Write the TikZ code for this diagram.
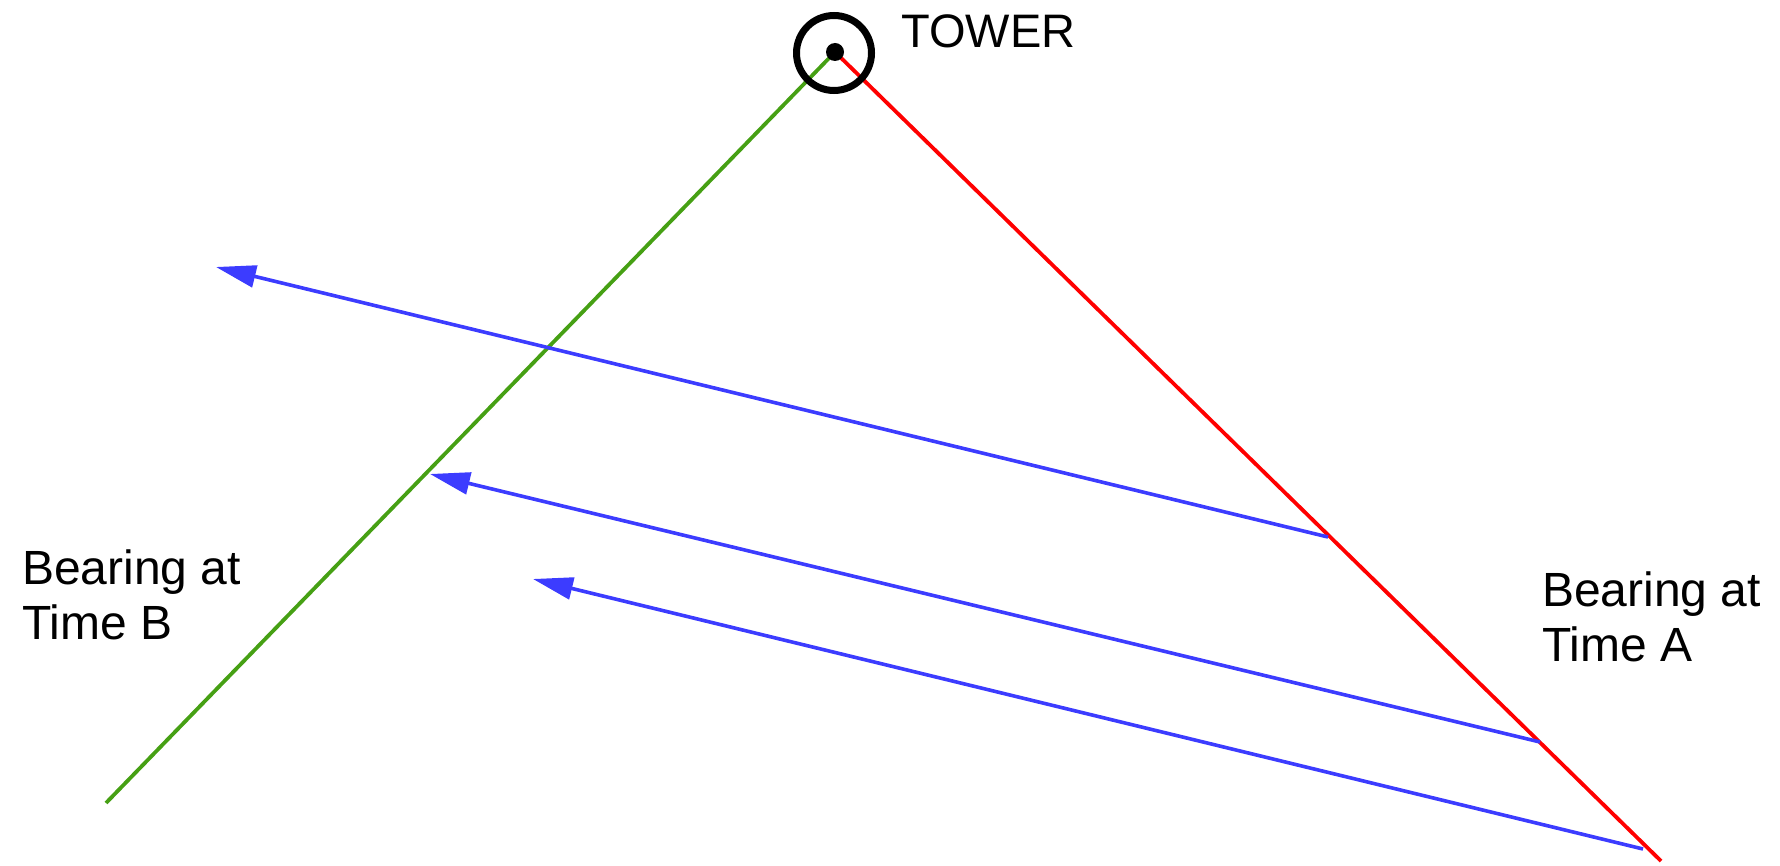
\documentclass[tikz,border=0pt]{standalone}
\usepackage{fontspec}
\setmainfont{Liberation Sans}
\usetikzlibrary{arrows.meta}
\definecolor{bblue}{RGB}{60,60,255}
\definecolor{bgreen}{RGB}{70,160,20}
\definecolor{bred}{RGB}{255,0,0}
\tikzset{
  bearing/.style={line width=3.8pt},
  track/.style={line width=3.6pt, bblue, -{Triangle[length=40pt,width=22pt]}},
  label/.style={font=\fontsize{48}{55}\selectfont, inner sep=0pt, align=left},
}
\begin{document}
\begin{tikzpicture}[x=1pt,y=-1pt]
\useasboundingbox (0,0) rectangle (1780,866);
\coordinate (T) at (835,52);
\coordinate (Bend) at (106,803);
\coordinate (Aend) at (1661,861);
\coordinate (a1) at (1328,537);
\coordinate (b1) at (216,267);
\coordinate (a2) at (1540,742);
\coordinate (b2) at (430,474);
\coordinate (a3) at (1643,849);
\coordinate (b3) at (533,579);
\draw[bearing, bgreen] (T) -- (Bend);
\draw[bearing, bred] (T) -- (Aend);
\draw[track] (a1) -- (b1);
\draw[track] (a2) -- (b2);
\draw[track] (a3) -- (b3);
\node[draw, circle, line width=7pt, minimum size=75pt, inner sep=0pt] (tower) at (834,53) {};
\fill (T) circle (9pt);
\node[label, font=\fontsize{47}{55}\selectfont, anchor=base west] (towerlbl) at (901,48) {TOWER};
\node[label, anchor=base west] (lblB) at (22,639) {Bearing at\\Time B};
\node[label, anchor=base west] (lblA) at (1542,661) {Bearing at\\Time A};
\end{tikzpicture}
\end{document}
